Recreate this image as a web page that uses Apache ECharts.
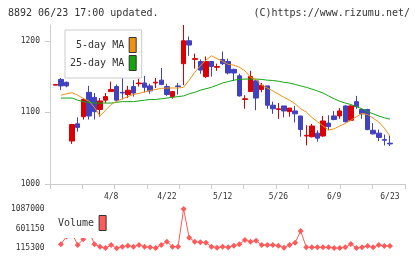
<!DOCTYPE html>
<html>
<head>
<meta charset="utf-8">
<script src="https://cdn.jsdelivr.net/npm/echarts@6/dist/echarts.min.js"></script>
<style>
  html, body { margin: 0; padding: 0; background: #fff; }
  #chart { width: 420px; height: 259px; }
</style>
</head>
<body>
<div id="chart"></div>
<script>
// 日付（取引日）
var dates = ['3/25','3/26','3/27','3/28','3/31','4/1','4/2','4/3','4/4','4/7',
  '4/8','4/9','4/10','4/11','4/14','4/15','4/16','4/17','4/18','4/21',
  '4/22','4/23','4/24','4/25','4/28','4/30','5/1','5/7','5/8','5/9',
  '5/12','5/13','5/14','5/15','5/16','5/19','5/20','5/21','5/22','5/23',
  '5/26','5/27','5/28','5/29','5/30','6/2','6/3','6/4','6/5','6/6',
  '6/9','6/10','6/11','6/12','6/13','6/16','6/17','6/18','6/19','6/20','6/23'];
var dateLabels = ['4/8','4/22','5/12','5/26','6/9','6/23'];

// 四本値
var opens  = [1138,1146,1142,1060,1084,1094,1128,1121,1104,1117,1129,1136,1128,1125,1136,1140,1141,1137,1141,1145,
  1136,1122,1137,1168,1200,1174,1171,1150,1171,1163,1174,1171,1160,1151,1118,1129,1144,1132,1137,1110,
  1104,1109,1101,1102,1095,1067,1066,1071,1067,1085,1095,1095,1109,1089,1115,1104,1104,1075,1071,1062,1057];
var closes = [1139,1137,1137,1083,1079,1118,1095,1101,1116,1122,1132,1117,1127,1131,1127,1141,1135,1130,1142,1139,
  1125,1129,1136,1200,1194,1175,1159,1171,1164,1164,1168,1155,1155,1123,1119,1150,1120,1138,1110,1105,
  1105,1102,1106,1098,1076,1068,1081,1064,1088,1080,1090,1102,1087,1109,1108,1098,1076,1070,1065,1061,1056];
var lows   = [1138,1131,1135,1056,1073,1090,1090,1090,1094,1113,1129,1115,1118,1120,1122,1136,1128,1126,1134,1138,
  1123,1119,1125,1138,1179,1161,1154,1148,1150,1158,1166,1153,1144,1122,1105,1129,1103,1128,1105,1098,
  1091,1093,1094,1086,1066,1054,1065,1059,1066,1075,1089,1091,1086,1088,1105,1091,1075,1069,1060,1054,1053];
var highs  = [1139,1148,1143,1084,1093,1120,1137,1127,1120,1127,1143,1139,1151,1137,1145,1147,1151,1140,1148,1162,
  1140,1130,1141,1222,1206,1182,1174,1178,1171,1168,1185,1175,1161,1154,1124,1158,1145,1141,1137,1115,
  1113,1109,1106,1109,1095,1082,1084,1075,1095,1096,1102,1106,1110,1110,1123,1105,1105,1085,1076,1069,1067];

// 移動平均
var ma5 = [null,1124,1126,1127.5,1124,1119.5,1116,1107,1095,1103,1111,1115.5,1119,1122,1125,1126.5,1128.5,1130.5,1132,1133.5,
  1134,1134,1134,1135,1145,1156,1165,1173,1179,1175,1171.5,1167,1166,1163,1158,1149,1146,1138,1134,1130,
  1125.5,1121,1117,1112,1105,1100.5,1093,1087,1081,1075.5,1077,1081,1084.5,1089,1094,1098.5,1097,1092,1086.5,1078,1067];
var ma25 = [null,1120,1120,1120,1117,1115,1114,1113,1113,1113,1113,1114,1115,1115,1115,1116,1117,1118,1118,1119,
  1120,1121,1122,1123,1126,1128,1131,1133,1135,1138,1141,1143,1145,1146,1146.5,1146.5,1146.5,1146,1145,1144.5,
  1143.5,1142,1141,1139,1137,1135,1132.5,1130,1127,1123,1119,1115.5,1113,1111,1108,1105,1101,1098,1095,1092.5,1090.5];

// 出来高
var volume = [null,214200,410000,480000,197700,337800,560000,214200,156500,120000,197700,115300,156500,181200,156500,197700,156500,140000,125000,197700,
  280200,156500,156500,1087000,379100,280200,263600,255500,156500,131800,156500,140000,181200,214200,321400,280200,304900,197700,197700,197700,
  181200,131800,197700,255500,543800,140000,140000,140000,140000,140000,120000,120000,140000,222400,120000,140000,173000,140000,197700,173000,173000];

var priceTicks = [1000, 1100, 1200];
var volumeTicks = [115300, 601150, 1087000];

var UP = '#dd0000';
var DOWN = '#4042c0';
var ORANGE = '#f0900f';
var GREEN = '#12a512';
var VOL = '#ff5a5a';
var AXIS = '#cccccc';
var FONT = 'DejaVu Sans Mono';

var candleData = [];
for (var i = 0; i < dates.length; i++) {
  candleData.push([opens[i], closes[i], lows[i], highs[i]]);
}

function plainNum(v) { return String(Math.round(v)); }

var chart = echarts.init(document.getElementById('chart'));
chart.setOption({
  animation: false,
  textStyle: { fontFamily: FONT },
  title: [
    {
      text: '8892 06/23 17:00 updated.',
      left: 8, top: 8, padding: 0,
      textStyle: { fontFamily: FONT, fontSize: 10, fontWeight: 'normal', color: '#333' }
    },
    {
      text: '(C)https://www.rizumu.net/',
      right: 10, top: 8, padding: 0,
      textStyle: { fontFamily: FONT, fontSize: 10, fontWeight: 'normal', color: '#333' }
    }
  ],
  legend: [
    {
      data: [
        { name: '5-day MA', icon: 'rect', itemStyle: { color: ORANGE, borderColor: '#333', borderWidth: 1 } },
        { name: '25-day MA', icon: 'rect', itemStyle: { color: GREEN, borderColor: '#333', borderWidth: 1 } }
      ],
      orient: 'vertical',
      align: 'right',
      left: 65, top: 30,
      padding: [7, 5, 7, 5],
      itemWidth: 7, itemHeight: 15, itemGap: 2,
      backgroundColor: '#fff',
      borderColor: '#cccccc', borderWidth: 1,
      selectedMode: false,
      textStyle: { fontFamily: FONT, fontSize: 10, color: '#333' }
    },
    {
      data: [
        { name: 'Volume', icon: 'rect', itemStyle: { color: VOL, borderColor: '#333', borderWidth: 1 } }
      ],
      align: 'right',
      left: 55, top: 205,
      padding: [10, 4, 7, 3],
      itemWidth: 7, itemHeight: 15,
      backgroundColor: '#fff',
      borderWidth: 0,
      selectedMode: false,
      textStyle: { fontFamily: FONT, fontSize: 10, color: '#333' }
    }
  ],
  grid: [
    { left: 50, top: 25, width: 355, height: 159 },
    { left: 52.6, top: 25, width: 340.1, height: 159 },
    { left: 52.6, top: 209, width: 340.1, height: 39.3 }
  ],
  xAxis: [
    {
      gridIndex: 0, type: 'value', min: 0, max: 11, interval: 1,
      axisLine: { show: true, lineStyle: { color: AXIS } },
      axisTick: { show: true, length: 5, lineStyle: { color: AXIS } },
      axisLabel: { show: false },
      splitLine: { show: false }
    },
    {
      gridIndex: 1, type: 'category', data: dates, boundaryGap: true,
      axisLine: { show: false },
      axisTick: { show: false },
      axisLabel: {
        interval: function (idx, val) { return dateLabels.indexOf(val) >= 0; },
        margin: 9, fontSize: 8, color: '#333', fontFamily: FONT
      },
      splitLine: { show: false }
    },
    {
      gridIndex: 2, type: 'category', data: dates, boundaryGap: true, show: false
    }
  ],
  yAxis: [
    {
      gridIndex: 0, type: 'value', min: 1000, max: 1222,
      axisLine: { show: true, lineStyle: { color: AXIS } },
      axisTick: { show: true, length: 5, customValues: priceTicks, lineStyle: { color: AXIS } },
      axisLabel: { customValues: priceTicks, formatter: plainNum, margin: 10, fontSize: 8, color: '#333', fontFamily: FONT },
      splitLine: { show: false }
    },
    {
      gridIndex: 1, type: 'value', min: 1000, max: 1222, show: false, splitLine: { show: false }
    },
    {
      gridIndex: 2, type: 'value', min: 115300, max: 1087000,
      axisLine: { show: false },
      axisTick: { show: false },
      axisLabel: { customValues: volumeTicks, formatter: plainNum, margin: 8, fontSize: 8, color: '#333', fontFamily: FONT },
      splitLine: { show: false }
    }
  ],
  series: [
    {
      type: 'candlestick',
      xAxisIndex: 1, yAxisIndex: 1,
      data: candleData,
      barWidth: 5,
      itemStyle: { color: UP, color0: DOWN, borderColor: UP, borderColor0: DOWN, borderWidth: 1 }
    },
    {
      name: '25-day MA', type: 'line',
      xAxisIndex: 1, yAxisIndex: 1,
      data: ma25, showSymbol: false,
      lineStyle: { color: GREEN, width: 1 },
      itemStyle: { color: GREEN }
    },
    {
      name: '5-day MA', type: 'line',
      xAxisIndex: 1, yAxisIndex: 1,
      data: ma5, showSymbol: false,
      lineStyle: { color: ORANGE, width: 1 },
      itemStyle: { color: ORANGE }
    },
    {
      name: 'Volume', type: 'line',
      xAxisIndex: 2, yAxisIndex: 2,
      data: volume,
      symbol: 'diamond', symbolSize: 6,
      showSymbol: true, showAllSymbol: true,
      lineStyle: { color: VOL, width: 1 },
      itemStyle: { color: VOL }
    }
  ]
});
</script>
</body>
</html>
